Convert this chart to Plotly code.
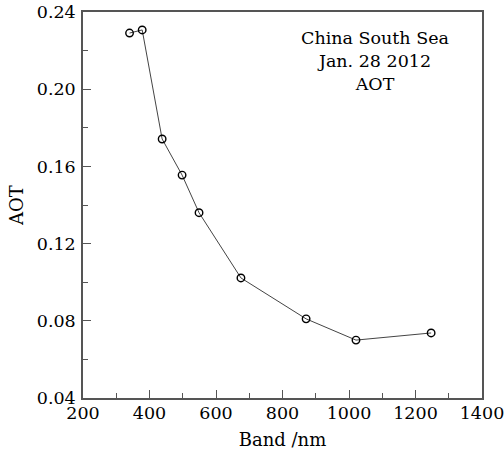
import plotly.graph_objects as go

bands = [340, 378, 438, 498, 549, 675, 871, 1021, 1247]
aot = [0.2291, 0.2307, 0.1742, 0.1555, 0.1360, 0.1022, 0.0810, 0.0700, 0.0737]

x_ticks = [200, 400, 600, 800, 1000, 1200, 1400]
y_ticks = [0.04, 0.08, 0.12, 0.16, 0.20, 0.24]
y_tick_labels = ["0.04", "0.08", "0.12", "0.16", "0.20", "0.24"]
note_lines = ["China South Sea", "Jan. 28 2012", "AOT"]

FONT = "DejaVu Serif, Liberation Serif, serif"

fig = go.Figure()
fig.add_trace(go.Scatter(
    x=bands, y=aot, mode="lines+markers",
    line=dict(color="#444444", width=1),
    marker=dict(symbol="circle-open", size=7.5, color="black", line=dict(width=1.4, color="black")),
    showlegend=False,
))

axis_common = dict(
    showline=True, linecolor="#555555", linewidth=1.5, mirror=True,
    ticks="inside", ticklen=8, tickwidth=1.2, tickcolor="#555555",
    showgrid=False, zeroline=False, automargin=False,
    ticklabeloverflow="allow",
    tickfont=dict(family=FONT, size=17.5, color="black"),
)

fig.update_layout(
    width=504, height=451,
    margin=dict(l=83, r=22, t=12, b=53),
    paper_bgcolor="white", plot_bgcolor="white",
    font=dict(family=FONT, color="black"),
    xaxis=dict(
        range=[200, 1400], tickvals=x_ticks,
        minor=dict(ticks="inside", ticklen=5, tickcolor="#555555", dtick=100, tick0=100),
        title=dict(text="Band /nm", font=dict(family=FONT, size=18), standoff=12),
        ticklabelstandoff=-2,
        **axis_common,
    ),
    yaxis=dict(
        range=[0.04, 0.24], tickvals=y_ticks, ticktext=y_tick_labels,
        minor=dict(ticks="inside", ticklen=5, tickcolor="#555555", dtick=0.02, tick0=0.02),
        title=dict(text="AOT", font=dict(family=FONT, size=18), standoff=8),
        ticklabelstandoff=2,
        **axis_common,
    ),
)

fig.add_annotation(
    x=0.732, y=0.873, xref="paper", yref="paper", xanchor="center", yanchor="middle",
    text="<br>".join(note_lines), showarrow=False, align="center",
    font=dict(family=FONT, size=17.5, color="black"),
)

fig.write_html("out.html", config={"displayModeBar": False},
               post_script="document.body.style.margin='0';")
